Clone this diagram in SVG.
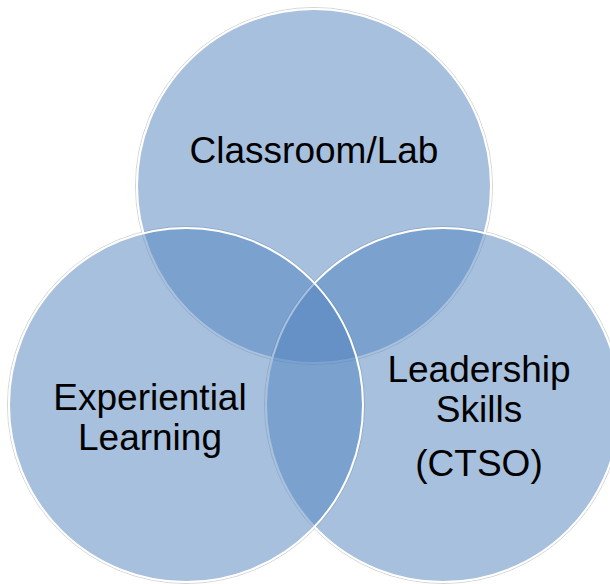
<svg xmlns="http://www.w3.org/2000/svg" width="610" height="584" viewBox="0 0 610 584">
  <style>
    .halo { fill: none; stroke: #d4d4d4; stroke-width: 1; }
    .disc { fill: #4F81BD; fill-opacity: 0.5; stroke: #ffffff; stroke-width: 2; }
    .lbl { font-family: "Liberation Sans", Arial, sans-serif; font-size: 37px; fill: #000000; text-anchor: middle; }
  </style>
  <rect width="610" height="584" fill="#ffffff"/>
  <g id="halos">
    <circle class="halo" cx="314" cy="186" r="178.5"/>
    <circle class="halo" cx="443" cy="405" r="178.5"/>
    <circle class="halo" cx="186" cy="405" r="178.5"/>
  </g>
  <g id="connectors"></g>
  <g id="node-classroom">
    <circle class="disc" cx="314" cy="186" r="177"/>
    <text class="lbl" x="314" y="163">Classroom/Lab</text>
  </g>
  <g id="node-leadership">
    <circle class="disc" cx="443" cy="405" r="177"/>
    <text class="lbl" x="479" y="382">Leadership</text>
    <text class="lbl" x="479" y="422">Skills</text>
    <text class="lbl" x="479" y="476">(CTSO)</text>
  </g>
  <g id="node-experiential">
    <circle class="disc" cx="186" cy="405" r="177"/>
    <text class="lbl" x="150" y="410">Experiential</text>
    <text class="lbl" x="150" y="450">Learning</text>
  </g>
</svg>
